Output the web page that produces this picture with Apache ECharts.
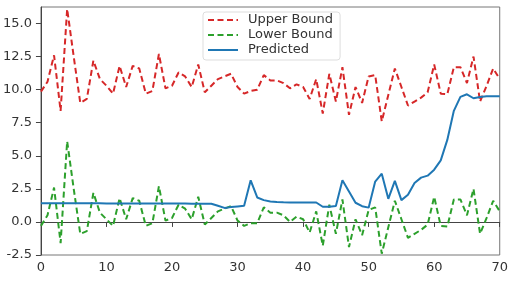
<!DOCTYPE html>
<html>
<head>
<meta charset="utf-8">
<script src="https://cdn.jsdelivr.net/npm/echarts@6/dist/echarts.min.js"></script>
<style>
  html, body { margin: 0; padding: 0; background: #fff; }
  #chart { width: 511px; height: 282px; }
</style>
</head>
<body>
<div id="chart"></div>
<script>
// x positions 0..70
const xs = [
  0, 1, 2, 3, 4, 5, 6, 7, 8, 9, 10, 11, 12, 13, 14, 15, 16, 17, 18, 19, 20,
  21, 22, 23, 24, 25, 26, 27, 28, 29, 30, 31, 32, 33, 34, 35, 36, 37, 38, 39, 40,
  41, 42, 43, 44, 45, 46, 47, 48, 49, 50, 51, 52, 53, 54, 55, 56, 57, 58, 59, 60,
  61, 62, 63, 64, 65, 66, 67, 68, 69, 70
];

const upperBound = [
  9.85, 10.6, 12.6, 8.4, 16.1, 12.5, 9.0, 9.3, 12.2, 10.8, 10.3,
  9.7, 11.8, 10.2, 11.8, 11.6, 9.7, 9.9, 12.7, 10.1, 10.3,
  11.3, 11.0, 10.2, 11.9, 9.8, 10.3, 10.8, 11.0, 11.2, 10.2,
  9.7, 9.9, 10.0, 11.1, 10.7, 10.7, 10.5, 10.1, 10.4, 10.2,
  9.3, 10.8, 8.2, 11.2, 9.1, 11.7, 8.1, 10.2, 9.0, 11.0,
  11.1, 7.6, 9.6, 11.6, 10.2, 8.8, 9.1, 9.4, 9.8, 11.9,
  9.7, 9.65, 11.7, 11.7, 10.5, 12.5, 9.1, 10.3, 11.6, 10.8
];

const lowerBound = [
  -0.3, 0.5, 2.6, -1.6, 6.1, 2.5, -0.9, -0.7, 2.2, 0.7, 0.2,
  -0.3, 1.8, 0.2, 1.8, 1.6, -0.3, -0.1, 2.7, 0.1, 0.3,
  1.3, 1.0, 0.2, 1.9, -0.2, 0.3, 0.8, 1.0, 1.2, 0.1,
  -0.3, -0.1, -0.1, 1.1, 0.7, 0.7, 0.5, 0.0, 0.4, 0.2,
  -0.8, 0.8, -1.8, 1.3, -0.9, 1.7, -1.9, 0.2, -1.0, 0.9,
  1.1, -2.4, -0.4, 1.6, 0.2, -1.2, -0.9, -0.6, -0.2, 1.9,
  -0.3, -0.35, 1.7, 1.7, 0.5, 2.5, -0.9, 0.3, 1.6, 0.8
];

const predicted = [
  1.42, 1.42, 1.42, 1.42, 1.42, 1.41, 1.41, 1.41, 1.41, 1.41, 1.4,
  1.4, 1.4, 1.4, 1.4, 1.4, 1.4, 1.4, 1.4, 1.39, 1.39,
  1.39, 1.39, 1.38, 1.38, 1.38, 1.38, 1.22, 1.06, 1.12, 1.17,
  1.22, 3.15, 1.85, 1.65, 1.55, 1.5, 1.48, 1.47, 1.47, 1.47,
  1.47, 1.47, 1.15, 1.15, 1.2, 3.15, 2.3, 1.45, 1.19, 1.08,
  3.05, 3.65, 1.75, 3.1, 1.65, 2.05, 2.95, 3.35, 3.5, 3.95,
  4.65, 6.2, 8.4, 9.45, 9.65, 9.35, 9.45, 9.5, 9.5, 9.5
];

const seriesNames = ["Upper Bound", "Lower Bound", "Predicted"];

const pairs = (ys) => xs.map((x, i) => [x, ys[i]]);

const chart = echarts.init(document.getElementById("chart"));

const axisColor = "#444";
const labelStyle = {
  color: "#333",
  fontFamily: "DejaVu Sans",
  fontSize: 13
};

const option = {
  animation: false,
  grid: {
    left: 37,
    right: 5,
    top: 7,
    bottom: 27,
    show: true,
    borderColor: "#777",
    borderWidth: 1
  },
  legend: {
    data: seriesNames,
    orient: "vertical",
    left: 203,
    top: 12,
    itemWidth: 30,
    itemHeight: 10,
    itemGap: 1,
    padding: [1, 7, 3, 4],
    backgroundColor: "rgba(255,255,255,0.85)",
    borderColor: "#ddd",
    borderWidth: 1,
    borderRadius: 3,
    itemStyle: { opacity: 0 },
    textStyle: {
      color: "#333",
      fontFamily: "DejaVu Sans",
      fontSize: 13,
      lineHeight: 14,
      padding: [0, 0, 0, 5]
    }
  },
  xAxis: {
    type: "value",
    min: 0,
    max: 70,
    interval: 10,
    axisLine: { show: true, lineStyle: { color: axisColor } },
    axisTick: { show: true, length: 5, lineStyle: { color: axisColor } },
    axisLabel: Object.assign({ margin: 6 }, labelStyle),
    splitLine: { show: false }
  },
  yAxis: {
    type: "value",
    min: -2.5,
    max: 16.25,
    interval: 2.5,
    axisLine: { show: true, lineStyle: { color: axisColor } },
    axisTick: { show: true, length: 5, lineStyle: { color: axisColor } },
    axisLabel: Object.assign({
      margin: 9,
      showMaxLabel: false,
      formatter: (v) => (v > 15.01 ? "" : v.toFixed(1))
    }, labelStyle),
    splitLine: { show: false }
  },
  series: [
    {
      name: seriesNames[0],
      type: "line",
      data: pairs(upperBound),
      symbol: "none",
      color: "#d62728",
      lineStyle: { color: "#d62728", width: 2, type: [6, 3.5] },
      z: 2
    },
    {
      name: seriesNames[1],
      type: "line",
      data: pairs(lowerBound),
      symbol: "none",
      color: "#2ca02c",
      lineStyle: { color: "#2ca02c", width: 2, type: [6, 3.5] },
      z: 2
    },
    {
      name: seriesNames[2],
      type: "line",
      data: pairs(predicted),
      symbol: "none",
      color: "#1f77b4",
      lineStyle: { color: "#1f77b4", width: 2 },
      z: 3
    }
  ]
};

option && chart.setOption(option);
</script>
</body>
</html>
